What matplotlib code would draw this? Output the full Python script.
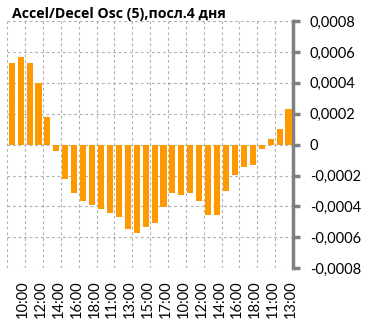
import matplotlib
matplotlib.use("Agg")
import matplotlib.pyplot as plt
import matplotlib.ticker as mticker
import numpy as np

plt.rcParams['font.family'] = ['Lato', 'DejaVu Sans']

# hourly oscillator values, last 4 sessions
values = [0.000528, 0.000565, 0.000528, 0.000399, 0.000179, -0.000043,
          -0.000224, -0.000315, -0.000365, -0.000393, -0.000419, -0.000444,
          -0.000470, -0.000548, -0.000574, -0.000535, -0.000509, -0.000406,
          -0.000315, -0.000328, -0.000315, -0.000367, -0.000457, -0.000457,
          -0.000302, -0.000199, -0.000147, -0.000134, -0.000030, 0.000034,
          0.000099, 0.000228]
hour_labels = ["10:00", "12:00", "14:00", "16:00", "18:00", "11:00", "13:00", "15:00",
               "17:00", "10:00", "12:00", "14:00", "16:00", "18:00", "11:00", "13:00"]
yticks = [-0.0008, -0.0006, -0.0004, -0.0002, 0, 0.0002, 0.0004, 0.0006, 0.0008]

fig = plt.figure(figsize=(3.82, 3.22), dpi=100)
ax = fig.add_axes([0.019, 0.1668, 0.748, 0.768])

x = np.arange(len(values))
ax.bar(x, values, width=0.68, color='#ff9900', zorder=3)

ax.set_xlim(-0.5, len(values) - 0.5)
ax.set_ylim(-0.0008, 0.0008)

# labels every second hour
ax.set_xticks(np.arange(1, len(values), 2) + 0.25)
ax.set_xticklabels(hour_labels, rotation=90, fontsize=10.5, color='black')
ax.tick_params(axis='x', length=0, pad=8.5)

# vertical grid between every pair of bars
ax.set_xticks(np.arange(-0.5, len(values), 2), minor=True)
ax.tick_params(axis='x', which='minor', length=0)

ax.yaxis.tick_right()
ax.set_yticks(yticks)
ax.yaxis.set_major_formatter(mticker.FuncFormatter(
    lambda v, p: '0' if abs(v) < 1e-12 else f"{v:.4f}".replace('.', ',')))
ax.tick_params(axis='y', direction='out', length=5, width=2.5, color='#808080',
               labelsize=10.5, pad=7)

grid_kw = dict(color='#b0b0b0', linestyle=(0, (2.5, 2.5)), linewidth=0.8, zorder=0)
ax.grid(axis='y', which='major', **grid_kw)
ax.grid(axis='x', which='minor', **grid_kw)

for side in ['top', 'left', 'bottom']:
    ax.spines[side].set_visible(False)
ax.spines['right'].set_color('#808080')
ax.spines['right'].set_linewidth(2.5)

fig.text(0.031, 0.957, "Accel/Decel Osc (5),посл.4 дня", fontsize=10.2,
         fontweight='bold', va='center', ha='left',
         family=['Open Sans', 'DejaVu Sans'])

fig.savefig("out.png", dpi=100)
